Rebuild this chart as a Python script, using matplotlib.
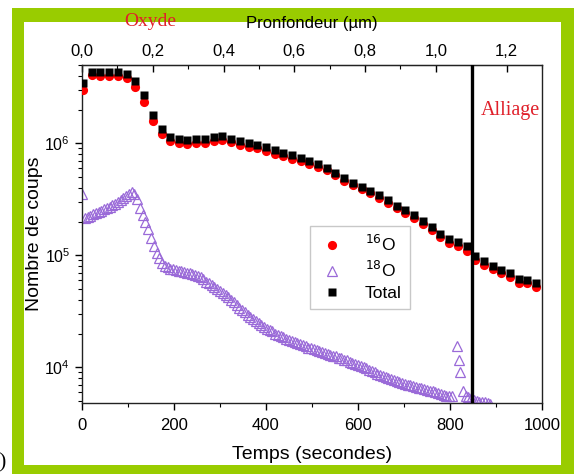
import matplotlib
matplotlib.use("Agg")
import matplotlib.pyplot as plt
from matplotlib.patches import Rectangle
from matplotlib.ticker import LogLocator, NullFormatter, MultipleLocator, FuncFormatter

plt.rcParams['font.family'] = ['Liberation Sans', 'DejaVu Sans']

# Total and 16O share the same time points
t_tot = [2, 21, 40, 59, 78, 97, 116, 135, 154, 173, 191, 210, 229, 248, 267, 286, 305,
         324, 343, 362, 381, 400, 419, 438, 456, 475, 494, 513, 532, 551, 570, 589, 608,
         627, 646, 665, 684, 703, 722, 741, 760, 779, 798, 817, 836, 855, 874, 893, 911,
         930, 949, 968, 987]
total = [3.43e6, 4.3e6, 4.3e6, 4.3e6, 4.3e6, 4.13e6, 3.6e6, 2.68e6, 1.78e6, 1.33e6,
         1.14e6, 1.10e6, 1.08e6, 1.10e6, 1.10e6, 1.13e6, 1.15e6, 1.10e6, 1.05e6, 1.006e6,
         9.7e5, 9.2e5, 8.66e5, 8.2e5, 7.8e5, 7.4e5, 6.95e5, 6.5e5, 6.07e5, 5.45e5,
         4.9e5, 4.46e5, 4.07e5, 3.75e5, 3.43e5, 3.1e5, 2.76e5, 2.52e5, 2.28e5, 2.01e5,
         1.79e5, 1.56e5, 1.40e5, 1.31e5, 1.20e5, 9.8e4, 8.9e4, 8.1e4, 7.45e4, 6.95e4,
         6.2e4, 6.07e4, 5.66e4]
o16 = [3.0e6, 4.05e6, 4.0e6, 4.0e6, 3.95e6, 3.8e6, 3.2e6, 2.35e6, 1.57e6, 1.22e6,
       1.04e6, 1.01e6, 0.99e6, 1.0e6, 1.01e6, 1.04e6, 1.06e6, 1.02e6, 0.97e6, 0.93e6,
       9.0e5, 8.6e5, 8.1e5, 7.7e5, 7.3e5, 6.95e5, 6.55e5, 6.15e5, 5.75e5, 5.2e5,
       4.65e5, 4.25e5, 3.9e5, 3.58e5, 3.27e5, 2.95e5, 2.62e5, 2.4e5, 2.17e5, 1.9e5,
       1.68e5, 1.46e5, 1.3e5, 1.21e5, 1.1e5, 9.0e4, 8.2e4, 7.5e4, 6.9e4, 6.4e4,
       5.7e4, 5.6e4, 5.2e4]

# 18O, denser sampling
t_18o = [0, 6, 12, 18, 24, 30, 36, 42, 48, 54, 60, 66, 72, 78, 84, 90, 96, 102, 108, 114,
         120, 126, 132, 138, 144, 150, 156, 162, 168, 174, 180, 186, 192, 198, 204, 210,
         216, 222, 228, 234, 240, 246, 252, 258, 264, 270, 276, 282, 288, 294, 300, 306,
         312, 318, 324, 330, 336, 342, 348, 354, 360, 366, 372, 378, 384, 390, 396, 402,
         408, 414, 420, 426, 432, 438, 444, 450, 456, 462, 468, 474, 480, 486, 492, 498,
         504, 510, 516, 522, 528, 534, 540, 546, 552, 558, 564, 570, 576, 582, 588, 594,
         600, 606, 612, 618, 624, 630, 636, 642, 648, 654, 660, 666, 672, 678, 684, 690,
         696, 702, 708, 714, 720, 726, 732, 738, 744, 750, 756, 762, 768, 774, 780, 786,
         792, 798, 804, 816, 819, 822, 828, 834, 840, 846, 852, 858, 864, 870, 876, 882, 888]
o18 = [3.5e5, 2.15e5, 2.2e5, 2.26e5, 2.32e5, 2.37e5, 2.43e5, 2.5e5, 2.57e5, 2.64e5,
       2.72e5, 2.8e5, 2.9e5, 3.0e5, 3.12e5, 3.25e5, 3.38e5, 3.52e5, 3.68e5, 3.55e5,
       3.15e5, 2.65e5, 2.3e5, 2.0e5, 1.7e5, 1.42e5, 1.2e5, 1.05e5, 9.4e4, 8.6e4,
       8.1e4, 7.8e4, 7.6e4, 7.5e4, 7.4e4, 7.3e4, 7.2e4, 7.1e4, 7.0e4, 6.9e4,
       6.8e4, 6.7e4, 6.6e4, 6.4e4, 6.1e4, 5.8e4, 5.6e4, 5.4e4, 5.2e4, 5.0e4,
       4.8e4, 4.6e4, 4.4e4, 4.2e4, 4.0e4, 3.8e4, 3.6e4, 3.4e4, 3.25e4, 3.1e4,
       2.95e4, 2.8e4, 2.7e4, 2.6e4, 2.5e4, 2.4e4, 2.3e4, 2.2e4, 2.15e4, 2.1e4,
       2.0e4, 1.95e4, 1.9e4, 1.85e4, 1.8e4, 1.75e4, 1.72e4, 1.68e4, 1.65e4, 1.6e4,
       1.58e4, 1.55e4, 1.5e4, 1.48e4, 1.45e4, 1.42e4, 1.4e4, 1.37e4, 1.35e4, 1.32e4,
       1.3e4, 1.27e4, 1.25e4, 1.22e4, 1.2e4, 1.17e4, 1.15e4, 1.12e4, 1.1e4, 1.07e4,
       1.05e4, 1.02e4, 1.0e4, 9.8e3, 9.5e3, 9.3e3, 9.0e3, 8.8e3, 8.6e3, 8.4e3,
       8.2e3, 8.0e3, 7.9e3, 7.7e3, 7.6e3, 7.4e3, 7.3e3, 7.1e3, 7.0e3, 6.9e3,
       6.8e3, 6.7e3, 6.6e3, 6.5e3, 6.4e3, 6.3e3, 6.2e3, 6.1e3, 6.0e3, 5.9e3,
       5.8e3, 5.7e3, 5.6e3, 5.6e3, 5.5e3, 1.55e4, 1.15e4, 9.0e3, 6.2e3, 5.6e3,
       5.4e3, 5.3e3, 5.1e3, 5.0e3, 4.95e3, 4.9e3, 4.85e3, 4.8e3, 4.75e3]

t_interface = 848          # oxide / alloy boundary (s)
depth_max = 1.3            # um at 1000 s

fig = plt.figure(figsize=(5.74, 4.74), dpi=100)
W, H = 574, 474
# green frame behind everything
fig.patches.append(Rectangle((12 / W, 0), 1 - 12 / W, 1 - 7.7 / H, transform=fig.transFigure,
                             facecolor='#99cc00', edgecolor='none', zorder=-10))
fig.patches.append(Rectangle((24 / W, 9 / H), (561 - 24) / W, (465 - 22) / H,
                             transform=fig.transFigure, facecolor='white',
                             edgecolor='none', zorder=-9))

ax = fig.add_axes([82 / W, 71 / H, 460 / W, 338 / H])
ax.set_zorder(2)
ax.set_yscale('log')
ax.set_xlim(0, 1000)
ax.set_ylim(4.8e3, 5.0e6)

ax.plot(t_tot, o16, 'o', color='#ff0000', ms=6.6, mec='none', label='$^{16}$O', zorder=3)
ax.plot(t_18o, o18, '^', mfc='none', mec='#9a6ad8', mew=0.9, ms=7, label='$^{18}$O', zorder=2)
ax.plot(t_tot, total, 's', color='black', ms=6.4, mec='none', label='Total', zorder=4)
ax.axvline(t_interface, color='black', lw=2.4, zorder=5)

ax.xaxis.set_major_locator(MultipleLocator(200))
ax.xaxis.set_minor_locator(MultipleLocator(100))
ax.yaxis.set_major_locator(LogLocator(base=10, numticks=10))
ax.yaxis.set_minor_locator(LogLocator(base=10, subs=range(2, 10), numticks=20))
ax.yaxis.set_minor_formatter(NullFormatter())
ax.tick_params(axis='both', which='major', direction='out', length=5, width=1,
               labelsize=12, top=False, right=False)
ax.tick_params(axis='both', which='minor', direction='out', length=3, width=0.8,
               top=False, right=False)
ax.tick_params(axis='x', pad=6)
ax.tick_params(axis='y', labelsize=11.5)
for s in ax.spines.values():
    s.set_linewidth(1.0)
    s.set_color('#222222')

ax.set_xlabel('Temps (secondes)', fontsize=14, labelpad=9)
ax.set_ylabel('Nombre de coups', fontsize=14, labelpad=1)

# depth axis on top
top = ax.secondary_xaxis('top', functions=(lambda t: t * depth_max / 1000,
                                           lambda d: d * 1000 / depth_max))
top.xaxis.set_major_locator(MultipleLocator(0.2))
top.xaxis.set_minor_locator(MultipleLocator(0.1))
top.xaxis.set_major_formatter(FuncFormatter(lambda v, p: f'{v:.1f}'.replace('.', ',')))
top.tick_params(which='major', direction='in', length=5, width=1, labelsize=12, pad=4)
top.tick_params(which='minor', direction='in', length=3, width=0.8)
top.set_xlabel('Pronfondeur (µm)', fontsize=12, labelpad=12)

leg = ax.legend(loc='upper left', bbox_to_anchor=(0.496, 0.524), fontsize=12.5,
                frameon=True, fancybox=False, edgecolor='#bbbbbb', borderpad=0.45,
                handletextpad=1.1, labelspacing=0.35, handlelength=1.6, borderaxespad=0)
leg.get_frame().set_linewidth(1.0)

fig.text(150 / W, 1 - 22 / H, 'Oxyde', family='Liberation Serif', color='#e0202a',
         fontsize=14, ha='center', va='center')
ax.text((510 - 82) / 460, (403 - 110) / 338, 'Alliage', transform=ax.transAxes,
        family='Liberation Serif', color='#e0202a', fontsize=14.5, ha='center', va='center')
fig.text(-0.02, 0.004, 'b)', family='Liberation Serif', fontsize=15, ha='left', va='bottom')

fig.savefig('out.png', dpi=100)
